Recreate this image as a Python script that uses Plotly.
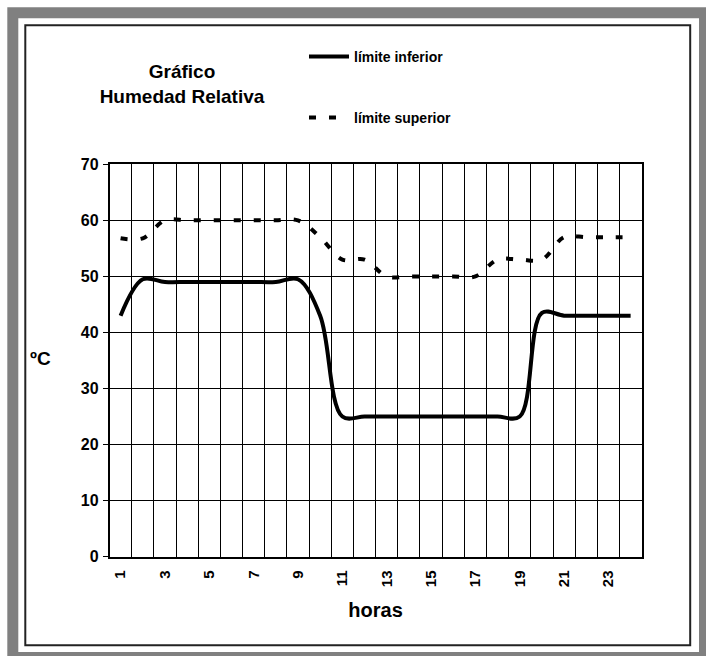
import plotly.graph_objects as go

W, H = 706, 656

horas = list(range(1, 25))
limite_inferior = [43, 49.5, 49, 49, 49, 49, 49, 49, 49.5, 43, 25, 25,
                   25, 25, 25, 25, 25, 25, 25, 43.5, 43, 43, 43, 43]
limite_superior = [56.8, 56.8, 60, 60, 60, 60, 60, 60, 60, 57, 53, 53,
                   50, 50, 50, 50, 50, 53, 53, 53, 57, 57, 57, 57]
x_tick_vals = list(range(1, 25, 2))
x_tick_text = [str(v) for v in x_tick_vals]
y_tick_vals = list(range(0, 80, 10))

FONT = "Liberation Sans, Arial, sans-serif"

def px(x):
    return x / W

def py(y):
    return 1 - y / H

fig = go.Figure()
fig.add_trace(go.Scatter(
    x=horas, y=limite_inferior, mode="lines", name="límite inferior",
    line=dict(color="black", width=4, shape="spline", smoothing=1),
    legend="legend"))
fig.add_trace(go.Scatter(
    x=horas, y=limite_superior, mode="lines", name="límite superior",
    line=dict(color="black", width=4, shape="spline", smoothing=1, dash="7px,13px"),
    legend="legend2"))

shapes = [
    dict(type="rect", xref="paper", yref="paper", x0=px(7.3), x1=px(706), y0=py(656), y1=py(7.3),
         fillcolor="#808080", line=dict(width=0), layer="below"),
    dict(type="rect", xref="paper", yref="paper", x0=px(18.3), x1=px(699), y0=py(652), y1=py(18.3),
         fillcolor="white", line=dict(width=0), layer="below"),
    dict(type="rect", xref="paper", yref="paper", x0=px(25.3), x1=px(690.2), y0=py(645.2), y1=py(25.3),
         fillcolor="rgba(0,0,0,0)", line=dict(width=2, color="#222"), layer="below"),
]

legend_common = dict(
    bgcolor="rgba(0,0,0,0)", borderwidth=0, itemwidth=40,
    font=dict(family=FONT, size=14, color="black", weight="bold"),
    xanchor="left", yanchor="middle",
)

fig.update_layout(
    width=W, height=H,
    margin=dict(l=0, r=0, t=0, b=0, autoexpand=False),
    paper_bgcolor="white", plot_bgcolor="white",
    font=dict(family=FONT, color="black"),
    showlegend=True,
    shapes=shapes,
    title=dict(text="Gráfico<br>Humedad Relativa", x=px(182), xanchor="center",
               y=py(78), yanchor="middle",
               font=dict(family=FONT, size=19, color="black", weight="bold")),
    legend=dict(x=px(304), y=py(57), **legend_common),
    legend2=dict(x=px(304), y=py(118), **legend_common),
    xaxis=dict(
        domain=[px(109.5), px(641.7)], range=[0.5, 24.5],
        tickmode="array", tickvals=x_tick_vals, ticktext=x_tick_text,
        tickangle=-90, ticks="", ticklabelstandoff=6,
        tickfont=dict(family=FONT, size=15, color="black", weight="bold"),
        showgrid=False, zeroline=False,
        showline=True, linecolor="black", linewidth=1.5, mirror=True,
        minor=dict(tickmode="linear", tick0=0.5, dtick=1, showgrid=True,
                   gridcolor="black", gridwidth=1, ticks=""),
        title=dict(text="horas", standoff=17,
                   font=dict(family=FONT, size=20, color="black", weight="bold")),
        fixedrange=True,
    ),
    yaxis=dict(
        domain=[py(556.7), py(164.3)], range=[0, 70],
        tickmode="array", tickvals=y_tick_vals,
        ticks="outside", ticklen=5, tickcolor="black", ticklabelstandoff=1,
        tickfont=dict(family=FONT, size=16, color="black", weight="bold"),
        showgrid=True, gridcolor="black", gridwidth=1, zeroline=False,
        showline=True, linecolor="black", linewidth=1.5, mirror=True,
        fixedrange=True,
    ),
    annotations=[
        dict(text="ºC", xref="paper", yref="paper", x=px(40), y=py(358),
             xanchor="center", yanchor="middle", showarrow=False,
             font=dict(family=FONT, size=19, color="black", weight="bold")),
    ],
)

fig.write_html("out.html", config={"displayModeBar": False},
               post_script="document.body.style.margin='0';document.body.style.overflow='hidden';")
